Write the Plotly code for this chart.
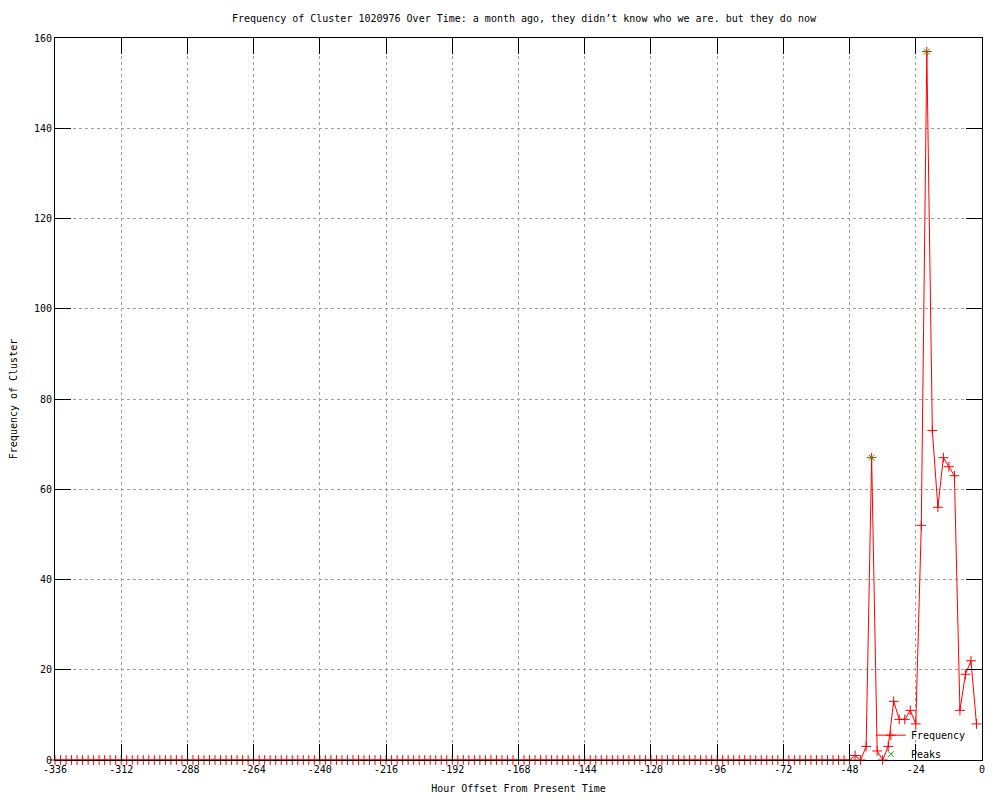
import plotly.graph_objects as go

# Data: hour offsets (every 2 hours) and cluster frequency
hours = list(range(-336, 0, 2))
frequency = [
    0, 0, 0, 0, 0, 0, 0, 0, 0, 0, 0, 0, 0, 0, 0, 0, 0, 0, 0, 0,
    0, 0, 0, 0, 0, 0, 0, 0, 0, 0, 0, 0, 0, 0, 0, 0, 0, 0, 0, 0,
    0, 0, 0, 0, 0, 0, 0, 0, 0, 0, 0, 0, 0, 0, 0, 0, 0, 0, 0, 0,
    0, 0, 0, 0, 0, 0, 0, 0, 0, 0, 0, 0, 0, 0, 0, 0, 0, 0, 0, 0,
    0, 0, 0, 0, 0, 0, 0, 0, 0, 0, 0, 0, 0, 0, 0, 0, 0, 0, 0, 0,
    0, 0, 0, 0, 0, 0, 0, 0, 0, 0, 0, 0, 0, 0, 0, 0, 0, 0, 0, 0,
    0, 0, 0, 0, 0, 0, 0, 0, 0, 0, 0, 0, 0, 0, 0, 0, 0, 0, 0, 0,
    0, 0, 0, 0, 0,
    # -46 .. -2
    1, 0, 3, 67, 2, 0, 3, 13, 9, 9, 11, 8, 52, 157, 73, 56, 67, 65, 63, 11, 19, 22, 8,
]
peak_hours = [-40, -20]
peak_values = [67, 157]

x_ticks = [-336, -312, -288, -264, -240, -216, -192, -168, -144, -120, -96, -72, -48, -24, 0]
x_ticktext = [str(v) for v in x_ticks]
y_ticks = [0, 20, 40, 60, 80, 100, 120, 140, 160]

FONT = "DejaVu Sans Mono"

fig = go.Figure()
fig.add_trace(go.Scatter(
    x=hours, y=frequency, mode="lines+markers", name="Frequency",
    line=dict(color="#ff0000", width=1),
    marker=dict(symbol="cross-thin", size=7, color="#ff0000",
                line=dict(color="#ff0000", width=1)),
    cliponaxis=False,
))
fig.add_trace(go.Scatter(
    x=peak_hours, y=peak_values, mode="markers", name="Peaks",
    marker=dict(symbol="x-thin", size=6, color="#00c000",
                line=dict(color="#00c000", width=1)),
    cliponaxis=False,
))

axis_common = dict(
    showline=True, linecolor="black", linewidth=1, mirror="ticks",
    ticks="inside", ticklen=16, tickcolor="black", tickwidth=1,
    showgrid=True, gridcolor="#a0a0a0", griddash="dot", gridwidth=1,
    zeroline=False, automargin=False,
    tickfont=dict(family=FONT, size=10, color="black"),
)

fig.update_layout(
    width=1000, height=800,
    paper_bgcolor="white", plot_bgcolor="white",
    margin=dict(l=55, r=18, t=38, b=40),
    title=dict(
        text="Frequency of Cluster 1020976 Over Time: a month ago, they didn\u2019t know who we are. but they do now",
        x=0.524, xanchor="center", y=1 - 18 / 800, yanchor="middle",
        font=dict(family=FONT, size=10, color="black"),
    ),
    xaxis=dict(
        range=[-336, 0], tickvals=x_ticks, ticktext=x_ticktext,
        title=dict(text="Hour Offset From Present Time", standoff=10,
                   font=dict(family=FONT, size=10, color="black")),
        **axis_common,
    ),
    yaxis=dict(
        range=[0, 160], tickvals=y_ticks,
        title=dict(text="Frequency of Cluster", standoff=14,
                   font=dict(family=FONT, size=10, color="black")),
        **axis_common,
    ),
    legend=dict(
        x=0.988, xanchor="right", y=-0.012, yanchor="bottom",
        bgcolor="rgba(0,0,0,0)", font=dict(family=FONT, size=10, color="black"),
        tracegroupgap=0, itemwidth=30,
    ),
    showlegend=True,
)

fig.write_html("out.html", post_script="document.body.style.margin='0px';",
               config={"displayModeBar": False})
